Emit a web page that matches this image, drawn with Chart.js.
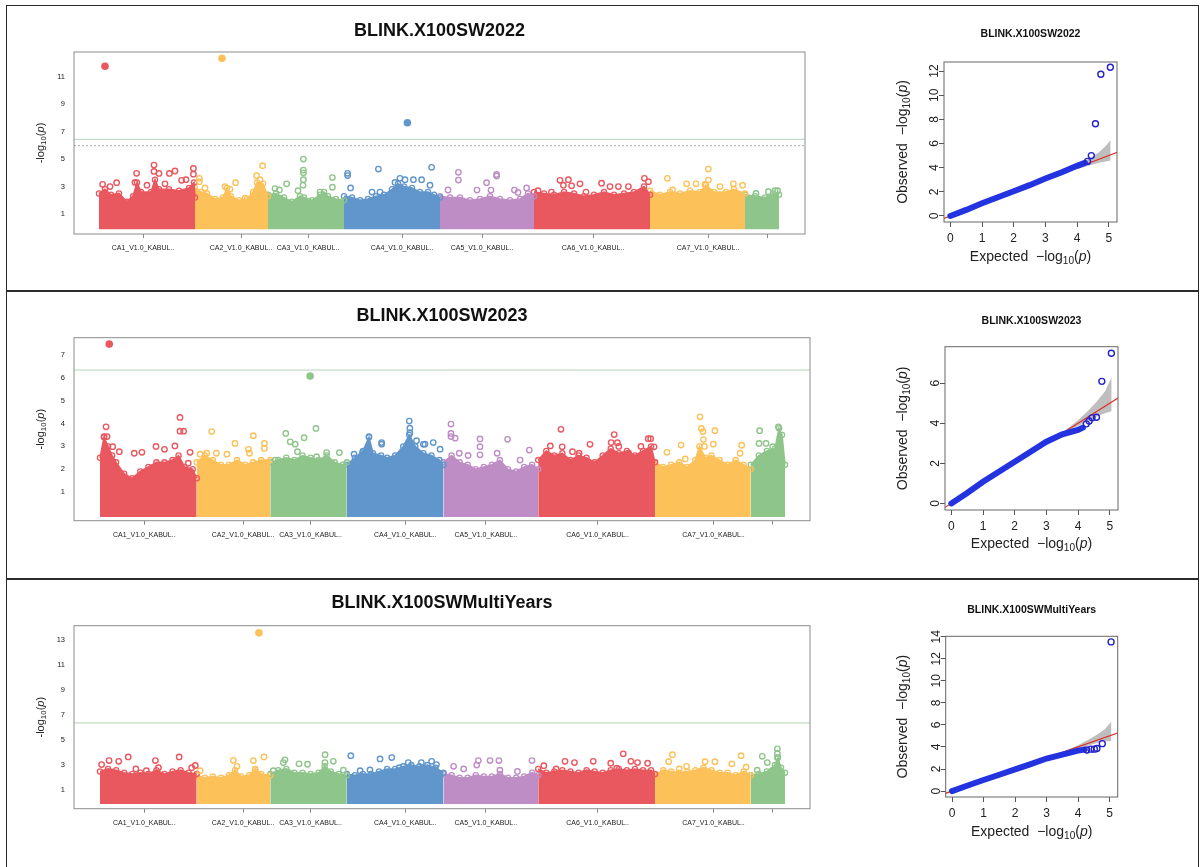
<!DOCTYPE html>
<html>
<head>
<meta charset="utf-8">
<title>BLINK X100SW - Manhattan and QQ plots</title>
<script src="https://cdn.jsdelivr.net/npm/chart.js@4.4.1/dist/chart.umd.min.js"></script>
<style>
  html, body { margin: 0; padding: 0; background: #fff; }
  body { position: relative; width: 1200px; height: 867px; overflow: hidden; }
  #frame { position: absolute; left: 6px; top: 5px; width: 1193px; height: 900px; border: 1.5px solid #2b2b2b; box-sizing: border-box; }
  .divider { position: absolute; left: 6px; width: 1193px; height: 2px; background: #2b2b2b; }
  canvas { position: absolute; }
</style>
</head>
<body>
<div id="frame"></div>
<div class="divider" style="top:290px"></div>
<div class="divider" style="top:578px"></div>
<canvas id="man2022"></canvas>
<canvas id="qq2022"></canvas>
<canvas id="man2023"></canvas>
<canvas id="qq2023"></canvas>
<canvas id="manMulti"></canvas>
<canvas id="qqMulti"></canvas>
<script>
// chromosomes (sizes in Mb) and x tick labels
const chromLabels = ['CA1_V1.0_KABUL..', 'CA2_V1.0_KABUL..', 'CA3_V1.0_KABUL..', 'CA4_V1.0_KABUL..',
                     'CA5_V1.0_KABUL..', 'CA6_V1.0_KABUL..', 'CA7_V1.0_KABUL..', ''];
const chromLengths = [48, 36.5, 38, 48, 47, 58, 47.5, 17];
const chromTicks = [22, 71, 104.5, 151.5, 191.5, 247, 304.5, 334];

// y tick labels
const yTicks2022 = [1, 3, 5, 7, 9, 11];
const yTicks2023 = [1, 2, 3, 4, 5, 6, 7];
const yTicksMulti = [1, 3, 5, 7, 9, 11, 13];
const qqXTicks = [0, 1, 2, 3, 4, 5];
const qqYTicks2022 = [0, 2, 4, 6, 8, 10, 12];
const qqYTicks2023 = [0, 2, 4, 6];
const qqYTicksMulti = [0, 2, 4, 6, 8, 10, 12, 14];

// threshold lines (-log10 p)
const cutoff2022 = [6.43, 5.97];
const cutoff2023 = [6.35];
const cutoffMulti = [6.36];

// ---- BLINK.X100SW2022 ----
// upper edge of the dense SNP cloud, per chromosome: [position Mb, -log10 p]
const cloud2022 = [
  [[0,2.5],[3,2.8],[6,2.4],[10,2.5],[14,1.9],[17,2.3],[19,3.3],[21,2.6],[26,2.6],[28,3.5],[30,2.8],[35,2.8],[40,2.7],[45,2.9],[47.5,3.3],[48,2.2]],
  [[0,2.9],[3,2.6],[6,2.5],[10,2.1],[14,2.2],[16,2.9],[18,2.3],[22,2.0],[26,2.1],[29,2.6],[31,3.3],[34,3.2],[36.5,2.3]],
  [[0,2.4],[4,2.5],[8,2.2],[12,1.9],[16,2.3],[18,2.2],[22,2.0],[26,2.4],[28,2.6],[30,2.3],[34,2.1],[38,2.0]],
  [[0,2.3],[4,2.2],[8,2.0],[12,2.1],[16,2.3],[20,2.4],[24,2.8],[27,3.2],[30,3.0],[34,2.9],[38,2.6],[42,2.6],[45,2.4],[48,2.2]],
  [[0,2.3],[5,2.2],[10,2.2],[15,2.0],[20,2.1],[25,2.3],[30,2.1],[35,2.0],[40,2.1],[44,2.5],[47,2.3]],
  [[0,2.6],[5,2.5],[10,2.4],[15,2.6],[20,2.5],[25,2.3],[30,2.4],[35,2.6],[40,2.4],[45,2.5],[50,2.6],[55,3.0],[58,2.4]],
  [[0,2.7],[5,2.4],[10,2.6],[15,2.5],[20,2.7],[25,2.6],[28,3.1],[32,2.6],[38,2.6],[42,2.8],[47.5,2.5]],
  [[0,2.4],[5,2.3],[10,2.2],[14,2.5],[17,2.4]]
];
// single SNPs standing out above the cloud
const snps2022 = [
  [[1.8,3.16],[5.5,3.0],[8.8,3.28],[18,3.3],[18.8,3.96],[24,3.1],[27.5,4.56],[27.5,4.1],[30,3.95],[33,3.2],[35.2,3.95],[38,4.13],[41.3,3.45],[43.5,3.5],[47.2,4.32],[47.2,3.9]],
  [[2.2,3.6],[2.2,3.35],[5,2.9],[15,3.0],[17.5,2.8],[20.3,3.28],[25,2.15],[30.8,3.79],[32.5,3.5],[33.8,4.52]],
  [[3.5,2.85],[5.7,2.75],[9.3,3.2],[15,2.7],[17.5,3.1],[17.7,3.5],[17.7,4.0],[17.7,4.2],[17.7,5.0],[26,2.6],[32.2,2.95],[32.2,3.65]],
  [[1.8,3.96],[1.8,3.8],[3.3,2.9],[14,2.6],[17.2,4.27],[18,2.6],[25.5,3.3],[28,3.6],[30.5,3.5],[34.7,3.5],[38.8,3.5],[43,3.1],[43.8,4.4]],
  [[4,2.75],[9.2,4.03],[9.2,3.47],[18.5,2.74],[23.3,3.28],[25.5,2.74],[28.3,3.88],[28.3,3.76],[37.2,2.74],[39,2.57],[43.3,2.9]],
  [[2,2.7],[8.7,2.6],[13,3.45],[14.7,3.1],[17.2,3.5],[18.8,3.05],[23,3.2],[26,2.6],[33.8,3.24],[38,3.0],[42.2,3.0],[47.2,3.0],[55.2,3.6],[57.2,3.35]],
  [[8.7,3.6],[11.3,2.75],[18.3,3.2],[23,3.2],[27.5,3.15],[29.2,4.27],[29.2,3.47],[35,3.0],[41.7,3.2],[46.3,3.1]],
  [[5.5,2.5],[11.7,2.62],[15,2.7],[16.3,2.7]]
];
// highlighted SNPs: [chromosome index, position Mb, -log10 p]
const peaks2022 = [[0, 3, 11.74], [1, 13.5, 12.32], [3, 31.7, 7.64]];

// ---- BLINK.X100SW2023 ----
const cloud2023 = [
  [[0,2.5],[2,3.4],[4,3.0],[6,2.6],[8,2.3],[12,1.8],[16,1.6],[20,1.9],[24,2.1],[28,2.3],[32,2.3],[36,2.4],[39,2.6],[42,2.1],[46,2.0],[48,1.6]],
  [[0,2.3],[4,2.6],[8,2.4],[12,2.2],[16,2.2],[20,2.4],[24,2.2],[28,2.3],[32,2.4],[36.5,2.4]],
  [[0,2.3],[4,2.4],[8,2.5],[12,2.4],[16,2.6],[20,2.5],[24,2.4],[28,2.6],[32,2.3],[36,2.2],[38,2.3]],
  [[0,2.2],[4,2.5],[8,2.8],[11,3.4],[13,2.7],[17,2.6],[20,2.5],[24,2.6],[28,3.0],[31,3.5],[34,3.0],[38,2.7],[42,2.6],[46,2.4],[48,2.2]],
  [[0,2.3],[4,2.6],[8,2.3],[12,2.2],[16,2.0],[20,2.1],[24,2.2],[28,2.4],[32,2.0],[36,1.9],[40,2.1],[44,2.2],[47,2.0]],
  [[0,2.4],[4,2.8],[8,2.6],[12,2.7],[16,2.4],[20,2.6],[24,2.5],[28,2.3],[32,2.6],[36,2.9],[40,2.7],[44,2.8],[48,2.6],[52,2.8],[56,3.0],[58,2.3]],
  [[0,2.3],[4,2.1],[8,2.2],[12,2.3],[16,2.1],[20,2.4],[22,3.0],[25,2.5],[28,2.6],[32,2.4],[36,2.2],[40,2.4],[44,2.2],[47.5,2.0]],
  [[0,2.2],[4,2.6],[8,2.8],[12,2.9],[14,3.8],[15.5,3.5],[17,2.2]]
];
const snps2023 = [
  [[2,3.43],[3,3.86],[3.5,3.43],[6.3,2.99],[9.6,2.77],[17,2.7],[20.8,2.74],[27.8,3.0],[32,2.87],[37.2,3.02],[39.7,4.27],[39.7,3.67],[41.5,3.67],[43.8,2.26],[44.7,2.74]],
  [[1.7,2.66],[5,2.7],[7.4,3.65],[9.8,2.7],[15,2.66],[19,3.13],[25.7,2.87],[26.2,2.7],[28.1,3.47],[33.6,3.13],[33.6,2.91]],
  [[2.5,2.4],[7.7,3.57],[9.9,3.2],[12.4,3.1],[13.5,2.77],[16.8,3.38],[22.7,3.79],[23,2.55],[28,2.73],[34.3,2.73]],
  [[3.6,2.66],[7.8,2.73],[11,3.43],[13.4,2.37],[17.3,3.17],[17.3,3.1],[31,4.11],[31.3,3.8],[31.3,3.6],[34.6,3.25],[38,3.09],[38.8,3.1],[42.9,3.17],[46.3,2.88]],
  [[3.7,3.98],[3.7,3.57],[3.7,3.43],[5.8,3.36],[7.8,2.7],[12.2,2.6],[18.1,3.33],[18.1,2.99],[18.1,2.63],[26.6,2.7],[31.8,3.31],[38,2.4],[42.6,2.84]],
  [[6,3.02],[11.3,3.75],[11.9,2.98],[17,2.77],[20.3,2.7],[25.7,3.09],[36.2,3.17],[37.7,3.52],[39.3,3.16],[40,3.0],[44.9,2.7],[51,3.0],[54.6,3.34],[55.8,3.34],[57.5,2.98]],
  [[5.9,2.74],[12.9,3.06],[15,2.45],[22.3,4.3],[23,3.79],[23.8,3.65],[24,3.3],[24.5,3.0],[28.9,3.1],[29.7,3.69],[42.2,2.7],[43,3.05]],
  [[4.1,3.13],[4.4,3.69],[7.6,3.13],[10.9,2.99],[13.7,3.86]]
];
const peaks2023 = [[0, 4.6, 7.49], [2, 19.8, 6.09]];

// ---- BLINK.X100SWMultiYears ----
const cloudMulti = [
  [[0,2.5],[4,2.7],[8,2.6],[12,2.4],[16,2.3],[20,2.4],[24,2.3],[28,2.6],[32,2.3],[36,2.5],[40,2.6],[44,2.4],[48,2.3]],
  [[0,2.2],[4,2.0],[8,2.1],[12,2.0],[16,2.2],[19,2.6],[22,2.1],[26,2.2],[29,2.7],[32,2.3],[36.5,2.2]],
  [[0,2.3],[4,2.6],[8,2.7],[12,2.4],[16,2.4],[20,2.3],[24,2.4],[27,2.9],[30,2.5],[34,2.3],[38,2.2]],
  [[0,2.3],[4,2.2],[8,2.3],[12,2.3],[16,2.5],[20,2.7],[24,2.7],[28,2.9],[32,3.0],[36,2.9],[40,3.0],[44,2.8],[48,2.4]],
  [[0,2.3],[4,2.2],[8,2.0],[12,2.0],[16,2.2],[20,2.1],[24,2.1],[28,2.3],[32,2.0],[36,2.0],[40,2.1],[44,2.4],[47,2.2]],
  [[0,2.7],[4,2.4],[8,2.5],[12,2.6],[16,2.5],[20,2.4],[24,2.6],[28,2.5],[32,2.4],[36,2.6],[40,2.7],[44,2.6],[48,2.7],[52,2.6],[56,2.6],[58,2.3]],
  [[0,2.2],[4,2.6],[8,2.5],[12,2.4],[16,2.5],[20,2.6],[24,2.8],[28,2.6],[32,2.4],[36,2.4],[40,2.2],[44,2.5],[47.5,2.2]],
  [[0,2.2],[4,2.3],[8,2.5],[12,3.0],[13.5,3.6],[15,2.8],[17,2.4]]
];
const snpsMulti = [
  [[0.8,3.04],[4.5,3.36],[9.3,3.3],[14,3.65],[17.8,2.7],[23,2.55],[27.5,3.36],[29,2.8],[39.3,3.65],[45.5,2.8],[47.3,2.97]],
  [[1.7,2.55],[18.2,3.38],[20,2.9],[28.1,3.36],[29,2.65],[33.4,3.65]],
  [[1.5,2.55],[6.5,3.2],[7.3,3.42],[14.3,3.1],[18.5,3.07],[27.2,3.83],[27.2,3.2],[31.3,3.3],[36.3,2.6]],
  [[2,3.75],[6.6,2.55],[11.5,2.62],[16.5,3.49],[22.3,3.6],[26,2.8],[30.5,3.2],[37,3.2],[42.1,3.3],[44.5,3.04]],
  [[5,2.9],[10,2.7],[16.5,3.0],[17.3,3.36],[23.1,3.36],[27.5,3.36],[28,2.6],[36.7,2.5],[43.9,3.36]],
  [[2.8,2.95],[8.9,2.7],[13.3,3.3],[18,3.2],[27.3,3.3],[36,3.15],[39,2.75],[42.2,3.9],[46,3.3],[49.3,3.2],[54.3,3.15]],
  [[6.7,3.27],[8.6,3.83],[12,2.7],[15.6,2.9],[24.8,3.27],[29.7,3.27],[38.1,3.1],[42.7,3.75],[45.2,2.84]],
  [[3.2,2.6],[5.7,3.7],[8.2,3.2],[13.2,4.3],[13.2,3.93],[13.2,3.6]]
];
const peaksMulti = [[1, 30.9, 13.53]];

// ---- QQ plots: expected vs observed -log10 p ----
const qqDiagonal = [[-0.5, -0.5], [5.5, 5.5]];

const qqExpected2022 = [0, 0.5, 1, 1.5, 2, 2.5, 3, 3.5, 4, 4.25];
const qqObserved2022 = [0, 0.5, 1.05, 1.55, 2.05, 2.55, 3.1, 3.6, 4.15, 4.4];
const qqTail2022 = [[4.33, 4.52], [4.45, 5.0], [4.58, 7.64], [4.75, 11.74], [5.05, 12.32]];
const qqUpper2022 = [[3.8, 3.85], [4.1, 4.3], [4.4, 4.75], [4.7, 5.3], [4.9, 5.8], [5.06, 6.3]];
const qqLower2022 = [[3.8, 3.75], [4.1, 3.95], [4.4, 4.2], [4.7, 4.4], [4.9, 4.5], [5.06, 4.6]];

const qqExpected2023 = [0, 0.5, 1, 1.5, 2, 2.5, 3, 3.5, 4, 4.15];
const qqObserved2023 = [0, 0.52, 1.08, 1.58, 2.08, 2.58, 3.08, 3.45, 3.67, 3.78];
const qqTail2023 = [[4.26, 3.97], [4.35, 4.11], [4.44, 4.27], [4.58, 4.3], [4.75, 6.09], [5.05, 7.49]];
const qqUpper2023 = [[3.6, 3.65], [4.0, 4.15], [4.3, 4.6], [4.6, 5.1], [4.85, 5.6], [5.06, 6.3]];
const qqLower2023 = [[3.6, 3.55], [4.0, 3.85], [4.3, 4.1], [4.6, 4.35], [4.85, 4.5], [5.06, 4.6]];

const qqExpectedMulti = [0, 0.5, 1, 1.5, 2, 2.5, 3, 3.5, 4, 4.2];
const qqObservedMulti = [0, 0.5, 1.0, 1.48, 1.96, 2.45, 2.95, 3.3, 3.67, 3.76];
const qqTailMulti = [[4.28, 3.73], [4.41, 3.8], [4.52, 3.8], [4.6, 3.86], [4.77, 4.3], [5.05, 13.53]];
const qqUpperMulti = [[3.5, 3.55], [4.0, 4.15], [4.3, 4.6], [4.6, 5.1], [4.85, 5.6], [5.06, 6.3]];
const qqLowerMulti = [[3.5, 3.45], [4.0, 3.85], [4.3, 4.1], [4.6, 4.35], [4.85, 4.5], [5.06, 4.55]];

// ---- drawing ----
const FONT = '"Liberation Sans", Arial, Helvetica, sans-serif';
const chromColors = ['#E9575F', '#FDC15A', '#8EC58A', '#6096CB', '#BF8DC6', '#E9575F', '#FDC15A', '#8EC58A'];

// cumulative start of each chromosome on the genome axis
const offsets = [];
let genomeEnd = 0;
chromLengths.forEach((len, i) => { offsets[i] = genomeEnd; genomeEnd += len; });

function toXY(c, pts) {
    return pts.map(p => ({ x: offsets[c] + p[0], y: p[1] }));
}

function pairs(xs, ys) {
    return xs.map((x, i) => ({ x: x, y: ys[i] }));
}

// "-log10(p)" with subscript and italic p
function drawLogLabel(ctx, prefix, x, y, size, vertical) {
    const parts = [
        { t: prefix, f: size + 'px ' + FONT, dy: 0 },
        { t: '10', f: (size * 0.72) + 'px ' + FONT, dy: size * 0.28 },
        { t: '(', f: size + 'px ' + FONT, dy: 0 },
        { t: 'p', f: 'italic ' + size + 'px ' + FONT, dy: 0 },
        { t: ')', f: size + 'px ' + FONT, dy: 0 }
    ];
    ctx.save();
    let w = 0;
    parts.forEach(p => { ctx.font = p.f; p.w = ctx.measureText(p.t).width; w += p.w; });
    ctx.translate(x, y);
    if (vertical) ctx.rotate(-Math.PI / 2);
    ctx.textBaseline = 'middle';
    ctx.textAlign = 'left';
    ctx.fillStyle = '#222';
    let cx = -w / 2;
    parts.forEach(p => { ctx.font = p.f; ctx.fillText(p.t, cx, p.dy); cx += p.w; });
    ctx.restore();
}

// plot frame, rotated y tick labels (QQ) and axis titles
const decor = {
    id: 'decor',
    afterDraw(chart, args, o) {
        const ctx = chart.ctx;
        const a = chart.chartArea;
        ctx.save();
        ctx.strokeStyle = o.boxColor;
        ctx.lineWidth = 1;
        ctx.strokeRect(a.left, a.top, a.right - a.left, a.bottom - a.top);
        if (o.rotatedTicks) {
            const s = chart.scales.y;
            ctx.font = o.tickSize + 'px ' + FONT;
            ctx.fillStyle = '#222';
            ctx.textAlign = 'center';
            ctx.textBaseline = 'middle';
            s.ticks.forEach(t => {
                ctx.save();
                ctx.translate(a.left - o.rotatedTicks, s.getPixelForValue(t.value));
                ctx.rotate(-Math.PI / 2);
                ctx.fillText(String(t.value), 0, 0);
                ctx.restore();
            });
        }
        if (o.yTitle) drawLogLabel(ctx, o.yTitle.text, o.yTitle.x, (a.top + a.bottom) / 2, o.yTitle.size, true);
        if (o.xTitle) drawLogLabel(ctx, o.xTitle.text, (a.left + a.right) / 2, o.xTitle.y, o.xTitle.size, false);
        ctx.restore();
    }
};

function placeCanvas(id, box) {
    const cv = document.getElementById(id);
    cv.width = box.width;
    cv.height = box.height;
    cv.style.left = box.left + 'px';
    cv.style.top = box.top + 'px';
    return cv;
}

function manhattan(id, box, title, cloud, snps, peaks, yTicks, cutoffs) {
    const cv = placeCanvas(id, box);
    const a = box.area;
    const lh = 18 * 1.2;
    const padTop = box.titleY - box.top - lh / 2;
    const datasets = [];

    peaks.forEach(p => datasets.push({
        type: 'scatter', data: [{ x: offsets[p[0]] + p[1], y: p[2] }],
        pointRadius: 3.8, pointBorderWidth: 0,
        pointBackgroundColor: chromColors[p[0]], pointBorderColor: chromColors[p[0]], order: 0
    }));
    snps.forEach((pts, c) => datasets.push({
        type: 'scatter', data: toXY(c, pts),
        pointRadius: 2.7, pointBorderWidth: 1.4,
        pointBorderColor: chromColors[c], pointBackgroundColor: 'rgba(255,255,255,0)', order: 1
    }));
    cloud.forEach((pts, c) => datasets.push({
        type: 'line', data: toXY(c, pts), fill: { value: -0.1 },
        backgroundColor: chromColors[c], borderColor: chromColors[c], borderWidth: 1.5, tension: 0,
        pointRadius: 2.6, pointBorderWidth: 1.3,
        pointBorderColor: chromColors[c], pointBackgroundColor: 'rgba(255,255,255,0)', order: 2
    }));
    cutoffs.forEach((v, i) => datasets.push({
        type: 'line', data: [{ x: box.xMin, y: v }, { x: box.xMax, y: v }],
        borderColor: i === 0 ? '#b9d3b9' : '#aaaaaa', borderWidth: 1,
        borderDash: i === 0 ? [] : [2, 2], pointRadius: 0, fill: false, order: 3
    }));

    new Chart(cv, {
        type: 'scatter',
        data: { datasets: datasets },
        options: {
            responsive: false,
            animation: false,
            events: [],
            layout: { padding: { left: 0, top: 0, bottom: 0, right: box.left + box.width - a.r } },
            plugins: {
                legend: { display: false },
                tooltip: { enabled: false },
                title: {
                    display: true, text: title, fullSize: false, color: '#111',
                    font: { family: FONT, size: 18, weight: 'bold', lineHeight: 1.2 },
                    padding: { top: padTop, bottom: a.t - box.top - padTop - lh }
                },
                decor: { boxColor: '#8c8c8c', yTitle: { text: '-log', x: 41 - box.left, size: 11 } }
            },
            scales: {
                x: {
                    type: 'linear', min: box.xMin, max: box.xMax,
                    afterBuildTicks: s => { s.ticks = chromTicks.map(v => ({ value: v })); },
                    afterFit: s => { s.height = box.top + box.height - a.b; },
                    ticks: {
                        autoSkip: false, maxRotation: 0, minRotation: 0, padding: 5.8,
                        color: '#222', font: { family: FONT, size: 7 },
                        callback: (v, i) => chromLabels[i]
                    },
                    grid: { display: true, drawOnChartArea: false, drawTicks: true, tickLength: 4, tickColor: '#888' },
                    border: { display: false }
                },
                y: {
                    type: 'linear', min: box.yMin, max: box.yMax,
                    afterBuildTicks: s => { s.ticks = yTicks.map(v => ({ value: v })); },
                    afterFit: s => { s.width = a.l - box.left; },
                    ticks: { padding: 9, color: '#222', font: { family: FONT, size: 7.5 } },
                    grid: { display: false, drawTicks: false },
                    border: { display: false }
                }
            }
        },
        plugins: [decor]
    });
}

function qqPlot(id, box, title, expected, observed, tail, upper, lower, yTicks) {
    const cv = placeCanvas(id, box);
    const a = box.area;
    const lh = 10.5 * 1.2;
    const padTop = box.titleY - box.top - lh / 2;
    const toPts = arr => arr.map(p => ({ x: p[0], y: p[1] }));

    new Chart(cv, {
        type: 'scatter',
        data: {
            datasets: [
                { type: 'scatter', data: toPts(tail), pointRadius: 3, pointBorderWidth: 1.4,
                  pointBorderColor: '#2323c8', pointBackgroundColor: 'rgba(255,255,255,0)', order: 0 },
                { type: 'line', data: pairs(expected, observed), borderColor: '#2433e0', borderWidth: 6,
                  borderCapStyle: 'round', pointRadius: 0, fill: false, order: 1 },
                { type: 'line', data: toPts(qqDiagonal), borderColor: '#e0302a', borderWidth: 1.2,
                  pointRadius: 0, fill: false, order: 2 },
                { type: 'line', data: toPts(upper), borderWidth: 0, pointRadius: 0,
                  backgroundColor: '#bebebe', fill: '+1', order: 3 },
                { type: 'line', data: toPts(lower), borderWidth: 0, pointRadius: 0, fill: false, order: 4 }
            ]
        },
        options: {
            responsive: false,
            animation: false,
            events: [],
            layout: { padding: { left: 0, top: 0, bottom: 0, right: box.left + box.width - a.r } },
            plugins: {
                legend: { display: false },
                tooltip: { enabled: false },
                title: {
                    display: true, text: title, fullSize: false, color: '#111',
                    font: { family: FONT, size: 10.5, weight: 'bold', lineHeight: 1.2 },
                    padding: { top: padTop, bottom: a.t - box.top - padTop - lh }
                },
                decor: {
                    boxColor: '#666', rotatedTicks: 9, tickSize: 12,
                    yTitle: { text: 'Observed  \u2212log', x: 903 - box.left, size: 14 },
                    xTitle: { text: 'Expected  \u2212log', y: box.xTitleY - box.top, size: 14 }
                }
            },
            scales: {
                x: {
                    type: 'linear', min: -0.2, max: 5.26,
                    afterBuildTicks: s => { s.ticks = qqXTicks.map(v => ({ value: v })); },
                    afterFit: s => { s.height = box.top + box.height - a.b; },
                    ticks: { autoSkip: false, maxRotation: 0, padding: 4.5, color: '#222', font: { family: FONT, size: 12 } },
                    grid: { display: true, drawOnChartArea: false, drawTicks: true, tickLength: 5, tickColor: '#555' },
                    border: { display: false }
                },
                y: {
                    type: 'linear', min: box.yMin, max: box.yMax,
                    afterBuildTicks: s => { s.ticks = yTicks.map(v => ({ value: v })); },
                    afterFit: s => { s.width = a.l - box.left; },
                    ticks: { display: false },
                    grid: { display: true, drawOnChartArea: false, drawTicks: true, tickLength: 5, tickColor: '#555' },
                    border: { display: false }
                }
            }
        },
        plugins: [decor]
    });
}

manhattan('man2022',
    { left: 0, top: 0, width: 880, height: 290, area: { l: 74, r: 805, t: 52, b: 234 }, titleY: 31,
      xMin: -12.5, xMax: 353, yMin: -0.45, yMax: 12.78 },
    'BLINK.X100SW2022', cloud2022, snps2022, peaks2022, yTicks2022, cutoff2022);
manhattan('man2023',
    { left: 0, top: 292, width: 880, height: 286, area: { l: 74, r: 810, t: 337.7, b: 520.7 }, titleY: 315.7,
      xMin: -12.9, xMax: 352.4, yMin: -0.26, yMax: 7.77 },
    'BLINK.X100SW2023', cloud2023, snps2023, peaks2023, yTicks2023, cutoff2023);
manhattan('manMulti',
    { left: 0, top: 580, width: 880, height: 287, area: { l: 74, r: 810, t: 625.7, b: 808.7 }, titleY: 603,
      xMin: -12.9, xMax: 352.4, yMin: -0.47, yMax: 14.1 },
    'BLINK.X100SWMultiYears', cloudMulti, snpsMulti, peaksMulti, yTicksMulti, cutoffMulti);

qqPlot('qq2022',
    { left: 860, top: 0, width: 340, height: 290, area: { l: 944, r: 1117, t: 62, b: 222 }, titleY: 34.3,
      xTitleY: 257, yMin: -0.5, yMax: 12.75 },
    'BLINK.X100SW2022', qqExpected2022, qqObserved2022, qqTail2022, qqUpper2022, qqLower2022, qqYTicks2022);
qqPlot('qq2023',
    { left: 860, top: 292, width: 340, height: 286, area: { l: 945, r: 1118, t: 346.7, b: 510 }, titleY: 320.7,
      xTitleY: 544, yMin: -0.33, yMax: 7.82 },
    'BLINK.X100SW2023', qqExpected2023, qqObserved2023, qqTail2023, qqUpper2023, qqLower2023, qqYTicks2023);
qqPlot('qqMulti',
    { left: 860, top: 580, width: 340, height: 287, area: { l: 945.7, r: 1117.7, t: 636.3, b: 797 }, titleY: 609.7,
      xTitleY: 832, yMin: -0.54, yMax: 14.04 },
    'BLINK.X100SWMultiYears', qqExpectedMulti, qqObservedMulti, qqTailMulti, qqUpperMulti, qqLowerMulti, qqYTicksMulti);
</script>
</body>
</html>
